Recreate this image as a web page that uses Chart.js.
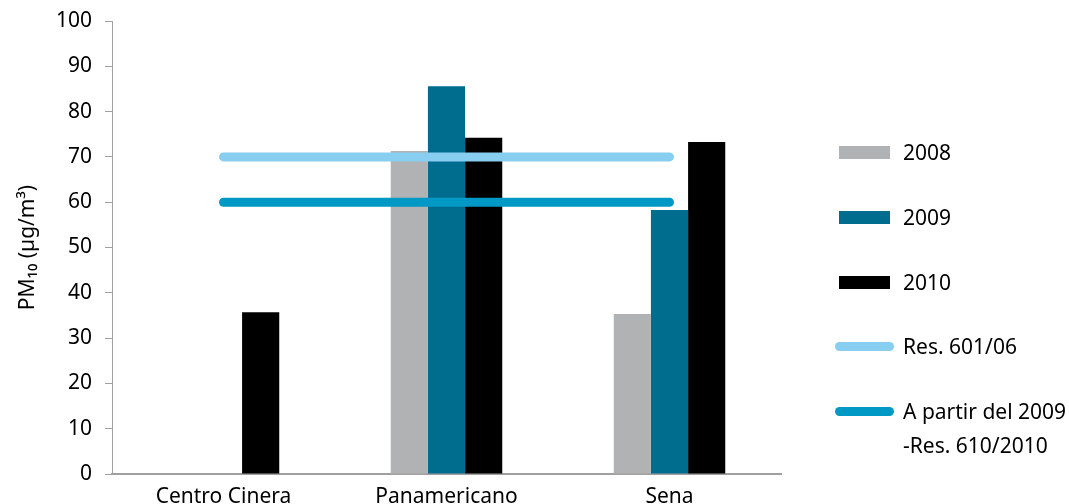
<!DOCTYPE html>
<html>
<head>
<meta charset="utf-8">
<script src="https://cdn.jsdelivr.net/npm/chart.js@4.4.1/dist/chart.umd.min.js"></script>
<style>
  html, body { margin: 0; padding: 0; background: #fff; }
  #wrap { position: relative; width: 1069px; height: 504px; }
  #c { position: absolute; left: 0; top: 0; }
  #legend { position: absolute; left: 839px; top: 0; font-family: "Noto Sans", sans-serif; font-size: 21px; color: #000; }
  .item { position: absolute; left: 0; white-space: nowrap; }
  .sw { position: absolute; left: 0; width: 51px; }
  .txt { position: absolute; left: 64px; line-height: 34px; }
</style>
</head>
<body>
<div id="wrap">
  <canvas id="c" width="1069" height="504"></canvas>
  <div id="legend"></div>
</div>
<script>
const categories = ["Centro Cinera", "Panamericano", "Sena"];
const values2008 = [null, 71.3, 35.3];
const values2009 = [null, 85.6, 58.3];
const values2010 = [35.7, 74.2, 73.3];
const res601 = [70, 70, 70];
const res610 = [60, 60, 60];
const yTicks = [0, 10, 20, 30, 40, 50, 60, 70, 80, 90, 100];

const colors = {
  y2008: "#b1b2b4",
  y2009: "#006d8f",
  y2010: "#000000",
  r601: "#87cef0",
  r610: "#0099c6"
};

Chart.defaults.font.family = '"Noto Sans", sans-serif';
Chart.defaults.color = "#000";

new Chart(document.getElementById("c"), {
  type: "bar",
  data: {
    labels: categories,
    datasets: [
      { type: "line", label: "Res. 601/06", data: res601, borderColor: colors.r601, borderWidth: 9, borderCapStyle: "round", pointRadius: 0, order: 0 },
      { type: "line", label: "A partir del 2009 -Res. 610/2010", data: res610, borderColor: colors.r610, borderWidth: 9, borderCapStyle: "round", pointRadius: 0, order: 0 },
      { label: "2008", data: values2008, backgroundColor: colors.y2008, order: 1 },
      { label: "2009", data: values2009, backgroundColor: colors.y2009, order: 1 },
      { label: "2010", data: values2010, backgroundColor: colors.y2010, order: 1 }
    ]
  },
  options: {
    responsive: false,
    animation: false,
    layout: { padding: { left: 0, right: 288, top: 21, bottom: 0 } },
    datasets: { bar: { categoryPercentage: 0.5, barPercentage: 1.0 } },
    plugins: { legend: { display: false }, tooltip: { enabled: false } },
    scales: {
      x: {
        grid: { display: false },
        border: { color: "#a0a0a0", width: 2 },
        ticks: { font: { size: 21 }, padding: 2, maxRotation: 0 },
        afterFit: (axis) => { axis.height = 30; axis.paddingLeft = 0; axis.paddingRight = 0; }
      },
      y: {
        min: 0, max: 100,
        afterBuildTicks: (axis) => { axis.ticks = yTicks.map(v => ({ value: v })); },
        grid: { display: true, drawOnChartArea: false, drawTicks: true, tickLength: 7, color: "#a0a0a0" },
        border: { color: "#a0a0a0", width: 1 },
        ticks: { font: { size: 21 }, padding: 13 },
        title: { display: true, text: "PM\u2081\u2080 (\u00b5g/m\u00b3)", font: { size: 21 }, padding: { top: 15, bottom: 0 } },
        afterFit: (axis) => { axis.width = 112; axis.paddingTop = 0; axis.paddingBottom = 0; }
      }
    }
  }
});

const legendItems = [
  { kind: "bar", color: colors.y2008, lines: ["2008"], y: 152 },
  { kind: "bar", color: colors.y2009, lines: ["2009"], y: 217 },
  { kind: "bar", color: colors.y2010, lines: ["2010"], y: 282 },
  { kind: "line", color: colors.r601, lines: ["Res. 601/06"], y: 346 },
  { kind: "line", color: colors.r610, lines: ["A partir del 2009", "-Res. 610/2010"], y: 411 }
];
const leg = document.getElementById("legend");
legendItems.forEach(it => {
  const d = document.createElement("div");
  d.className = "item";
  d.style.top = it.y + "px";
  const sw = document.createElement("div");
  sw.className = "sw";
  const h = it.kind === "bar" ? 13 : 9;
  sw.style.height = h + "px";
  sw.style.top = (-h / 2) + "px";
  sw.style.background = it.color;
  if (it.kind === "line") { sw.style.borderRadius = "5px"; sw.style.left = "-4px"; sw.style.width = "59px"; }
  d.appendChild(sw);
  const t = document.createElement("div");
  t.className = "txt";
  t.style.top = "-17px";
  t.innerHTML = it.lines.join("<br>");
  d.appendChild(t);
  leg.appendChild(d);
});
</script>
</body>
</html>
